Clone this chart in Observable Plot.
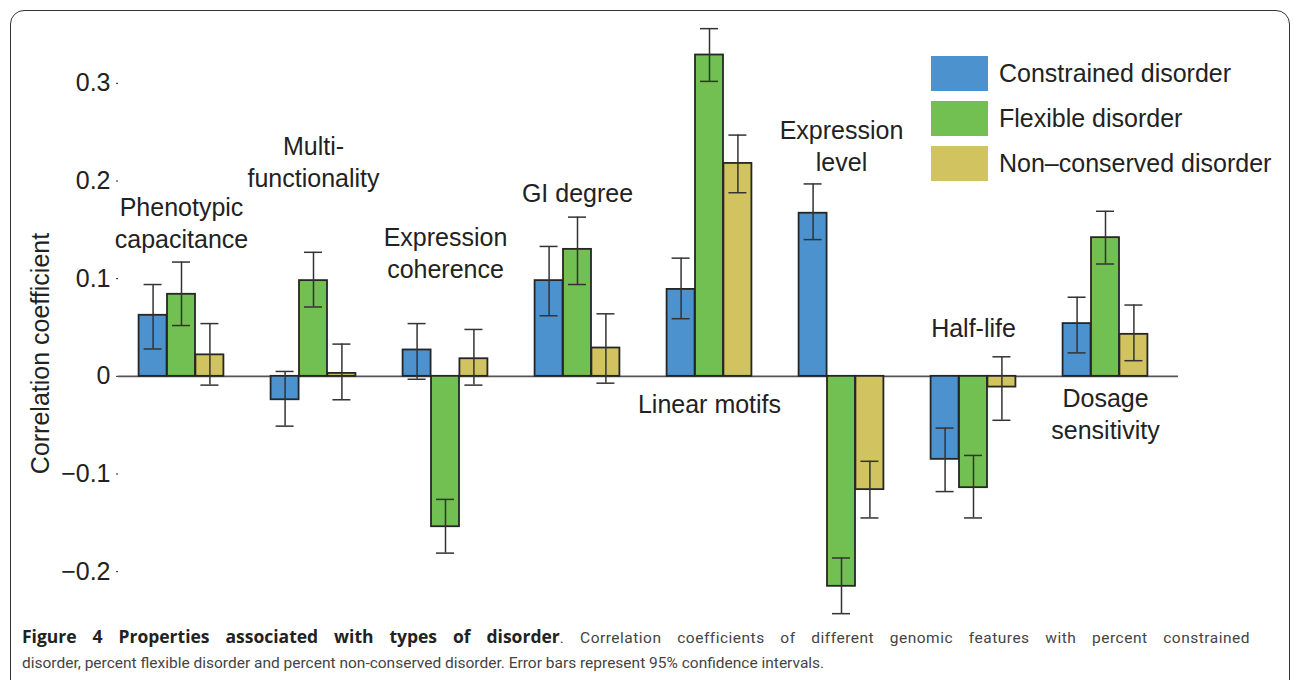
<!DOCTYPE html>
<html>
<head>
<meta charset="utf-8">
<script src="https://cdn.jsdelivr.net/npm/d3@7"></script>
<script src="https://cdn.jsdelivr.net/npm/@observablehq/plot@0.6"></script>
<style>
  html, body { margin: 0; padding: 0; background: #fff; overflow: hidden; width: 1293px; height: 680px; }
  #frame { position: absolute; left: 10px; top: 10px; width: 1280px; height: 720px;
           border: 1.5px solid #333; border-radius: 14px; box-sizing: border-box; }
  #chart { position: absolute; left: 0; top: 0; }
  #legend { position: absolute; left: 931px; top: 51px; font-family: "Liberation Sans", Arial, sans-serif;
            font-size: 25px; color: #222; }
  .row { display: flex; align-items: center; height: 45px; }
  .sw { width: 57px; height: 35px; margin-right: 11px; }
  #caption { position: absolute; left: 22px; top: 623px; width: 1228px; font-family: Roboto, "Open Sans", sans-serif;
             font-size: 15.5px; color: #444; }
  #caption div { height: 27px; line-height: 27px; white-space: nowrap; }
  #caption .l1 { text-align: justify; text-align-last: justify; white-space: normal; letter-spacing: 0.5px; }
  #caption b { color: #222; font-weight: 700; font-family: "Open Sans", sans-serif; font-size: 17.5px; letter-spacing: 0; }
</style>
</head>
<body>
<div id="frame"></div>
<div id="chart"></div>
<div id="legend"></div>
<div id="caption">
  <div class="l1"><b>Figure 4 Properties associated with types of disorder</b>. Correlation coefficients of different genomic features with percent constrained</div>
  <div>disorder, percent flexible disorder and percent non-conserved disorder. Error bars represent 95% confidence intervals.</div>
</div>
<script>
// ---- data ----
const groups = ["Phenotypic capacitance", "Multi-functionality", "Expression coherence", "GI degree",
                "Linear motifs", "Expression level", "Half-life", "Dosage sensitivity"];
const groupLabels = ["Phenotypic\ncapacitance", "Multi-\nfunctionality", "Expression\ncoherence", "GI degree",
                     "Linear motifs", "Expression\nlevel", "Half-life", "Dosage\nsensitivity"];
const labelAnchorY = [0.158, 0.221, 0.128, 0.189, -0.027, 0.237, 0.051, -0.037];

const series = ["Constrained disorder", "Flexible disorder", "Non\u2013conserved disorder"];
const seriesColors = ["#4b92cf", "#72bf52", "#d2c361"];

const constrained   = [0.0625, -0.024, 0.027, 0.098, 0.089, 0.167, -0.085, 0.054];
const constrainedLo = [0.028, -0.051, -0.003, 0.062, 0.059, 0.140, -0.118, 0.024];
const constrainedHi = [0.094, 0.005, 0.054, 0.133, 0.121, 0.197, -0.053, 0.081];

const flexible   = [0.084, 0.098, -0.154, 0.130, 0.329, -0.215, -0.114, 0.142];
const flexibleLo = [0.052, 0.071, -0.181, 0.094, 0.302, -0.243, -0.145, 0.115];
const flexibleHi = [0.117, 0.127, -0.126, 0.163, 0.356, -0.186, -0.081, 0.169];

const nonConserved   = [0.022, 0.003, 0.018, 0.029, 0.218, -0.116, -0.011, 0.043];
const nonConservedLo = [-0.009, -0.024, -0.009, -0.007, 0.188, -0.145, -0.045, 0.016];
const nonConservedHi = [0.054, 0.033, 0.048, 0.064, 0.247, -0.087, 0.020, 0.073];

const yTicks = [-0.2, -0.1, 0, 0.1, 0.2, 0.3];
const yLabel = "Correlation coefficient";

// ---- build ----
const values = [constrained, flexible, nonConserved];
const lows = [constrainedLo, flexibleLo, nonConservedLo];
const highs = [constrainedHi, flexibleHi, nonConservedHi];

const W = 1293, H = 640;
const margin = {top: 34, right: 115, bottom: 20, left: 118};
const xOpts = {type: "band", domain: groups, paddingInner: 0.785, paddingOuter: 0.4034, align: 0.454,
               range: [margin.left, W - margin.right], axis: null};
const xs = Plot.scale({x: xOpts});
const bw = xs.bandwidth;

const marks = [Plot.ruleY([0], {stroke: "#555", strokeWidth: 1.6})];
series.forEach((s, si) => {
  const rows = groups.map((g, i) => ({group: g, value: values[si][i]}));
  const dx = (si - 1) * bw;
  marks.push(Plot.barY(rows, {x: "group", y: "value", fill: seriesColors[si], stroke: "#262626",
                              strokeWidth: 1.8, dx}));
});
series.forEach((s, si) => {
  const rows = groups.map((g, i) => ({group: g, lo: lows[si][i], hi: highs[si][i]}));
  const dx = (si - 1) * bw;
  marks.push(Plot.ruleX(rows, {x: "group", y1: "lo", y2: "hi", stroke: "#333", strokeWidth: 1.5, dx}));
  marks.push(Plot.tickY(rows, {x: "group", y: "lo", stroke: "#333", strokeWidth: 1.5, dx, insetLeft: 5, insetRight: 5}));
  marks.push(Plot.tickY(rows, {x: "group", y: "hi", stroke: "#333", strokeWidth: 1.5, dx, insetLeft: 5, insetRight: 5}));
});
const labelRows = groups.map((g, i) => ({group: g, y: labelAnchorY[i], text: groupLabels[i]}));
marks.push(Plot.text(labelRows, {x: "group", y: "y", text: "text", lineAnchor: "middle", lineHeight: 1.28,
                                 fontSize: 25, fill: "#222"}));
marks.push(Plot.text([yLabel], {frameAnchor: "left", textAnchor: "middle", dx: -78, dy: 26, rotate: -90,
                                fontSize: 25, fill: "#222"}));

const chart = Plot.plot({
  width: W, height: H,
  marginTop: margin.top, marginRight: margin.right, marginBottom: margin.bottom, marginLeft: margin.left,
  style: {fontFamily: "'Liberation Sans', Arial, sans-serif", fontSize: "25px", color: "#222", background: "transparent", overflow: "visible"},
  x: xOpts,
  y: {domain: [-0.25, 0.35], ticks: yTicks, tickSize: 2, tickPadding: 6, label: null,
      tickFormat: d => d === 0 ? "0" : (d < 0 ? "\u2212" + Math.abs(d).toFixed(1) : d.toFixed(1))},
  marks
});
document.getElementById("chart").appendChild(chart);

// legend
const legend = document.getElementById("legend");
series.forEach((s, i) => {
  const row = document.createElement("div");
  row.className = "row";
  const sw = document.createElement("div");
  sw.className = "sw";
  sw.style.background = seriesColors[i];
  const t = document.createElement("span");
  t.textContent = s;
  row.appendChild(sw); row.appendChild(t);
  legend.appendChild(row);
});
</script>
</body>
</html>
